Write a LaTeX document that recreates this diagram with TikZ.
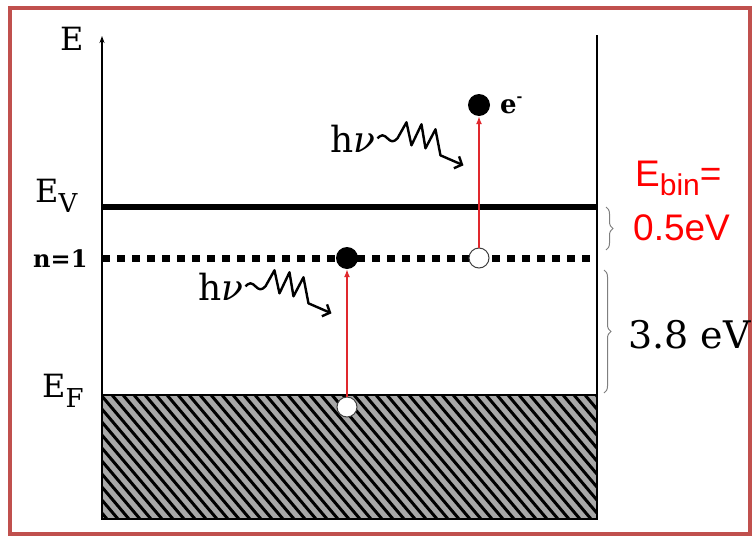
\documentclass[tikz,border=0pt]{standalone}
\usepackage{fontspec}
\setmainfont{DejaVu Serif}
\newfontfamily\binfont{Liberation Sans}
\usetikzlibrary{arrows.meta,decorations.pathreplacing}
\definecolor{cframe}{HTML}{C0504D}
\definecolor{chatch}{HTML}{A8A8A8}
\definecolor{cexc}{HTML}{E0282D}
\definecolor{cbrace}{HTML}{7F7F7F}
\definecolor{cbin}{HTML}{FF0000}
\tikzset{
  level/.style={line width=6pt},
  dotlevel/.style={line width=7pt, dash pattern=on 7.5pt off 7.5pt},
  elec/.style={circle, fill=black, inner sep=0pt, minimum size=22pt},
  hole/.style={circle, draw=black!75, fill=white, line width=1pt, inner sep=0pt, minimum size=20pt},
  exc/.style={-{Latex[length=8pt,width=6pt]}, draw=cexc, line width=1.5pt},
  photon/.style={-{Straight Barb[length=6pt,width=13pt]}, line width=2.4pt, line join=round},
  lab/.style={inner sep=0pt, anchor=base west, font=\fontsize{32}{36}\selectfont},
  hvlab/.style={lab, inner sep=2pt, font=\fontsize{36}{40}\selectfont},
  binlab/.style={lab, text=cbin, font=\binfont\fontsize{37}{40}\selectfont},
  gbrace/.style={draw=cbrace, line width=1pt, decorate, decoration={brace, amplitude=7pt}},
}
\newcommand{\lowsub}[1]{\raisebox{-10pt}{\fontsize{26}{26}\selectfont #1}}

\begin{document}
\begin{tikzpicture}[x=1pt,y=-1pt]
\useasboundingbox (0,0) rectangle (756,536);
\draw[cframe, line width=4pt] (10,7.5) rectangle (750,534);
% ---------------- filled states below E_F
\begin{scope}
\clip (102,395) rectangle (597,519);
\fill[chatch] (102,395) rectangle (597,519);
\foreach \x in {-20,-9,...,600} {
  \draw[line width=3pt] (\x,395) -- ++(105,124);
}
\end{scope}
\draw[line width=1.2pt] (102,395) rectangle (597,519);
% ---------------- axes and levels
\draw[-{Stealth[length=7pt,width=5pt]}, line width=1.3pt] (102,519) -- (102,36);
\draw[line width=2pt] (597,35) -- (597,519);
\draw[level] (102,207) -- (597,207);
\draw[dotlevel] (102,258) -- (597,258);
\node[lab] (eax) at (60,50) {E};
\node[lab] (ev) at (35,202) {E\lowsub{V}};
\node[lab, font=\bfseries\fontsize{24}{28}\selectfont] (n1) at (33,267) {n=1};
\node[lab] (ef) at (42,397) {E\lowsub{F}};
% ---------------- excitations
\node[hole] (h1) at (347,407) {};
\node[elec] (e1) at (347,258) {};
\node[hole] (h2) at (479,258) {};
\node[elec] (e2) at (479,105) {};
\node[lab, font=\bfseries\fontsize{26}{28}\selectfont] (em) at (500,113) {e\raisebox{12pt}{\fontsize{14}{14}\selectfont -}};
\draw[exc] (h1) -- (e1);
\draw[exc] (h2) -- (e2);
\node[hvlab] (hv1) at (328,152) {h{\itshape ν}};
\node[hvlab] (hv2) at (196,300) {h{\itshape ν}};
\draw[photon] (hv1.east) sin ++(5,-3) cos ++(5,3) sin ++(5,3) cos ++(5,-3)
  -- ++(9,-16) -- ++(5,23) -- ++(10,-21) -- ++(4,24) -- ++(10,-19) -- ++(5,26) -- ++(23,10);
\draw[photon] (hv2.east) sin ++(5,-3) cos ++(5,3) sin ++(5,3) cos ++(5,-3)
  -- ++(9,-16) -- ++(5,23) -- ++(10,-21) -- ++(4,24) -- ++(10,-19) -- ++(5,26) -- ++(23,10);
% ---------------- energies
\draw[gbrace] (606,207) -- (606,250);
\draw[gbrace] (604,270) -- (604,393);
\node[lab, font=\fontsize{38}{40}\selectfont] (gap) at (628,348) {3.8 eV};
\node[binlab] (ebin) at (635,186) {E\raisebox{-9pt}{\fontsize{30}{30}\selectfont bin}=};
\node[binlab] (ebinv) at (633,240) {0.5eV};
\end{tikzpicture}
\end{document}
